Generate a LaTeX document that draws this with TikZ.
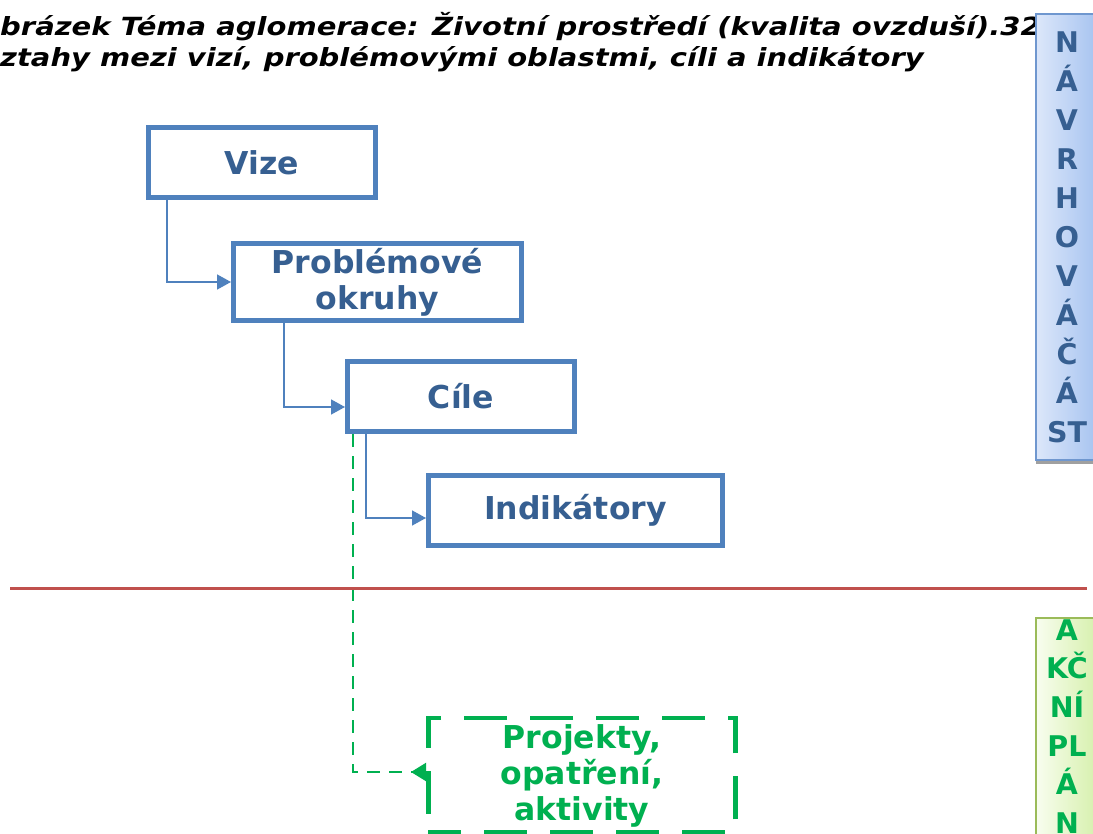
\documentclass[tikz,border=0pt]{standalone}
\usepackage{fontspec}
\setmainfont{DejaVu Sans}
\newfontfamily\titlefam[FakeStretch=1.16]{DejaVu Sans}
\usetikzlibrary{arrows.meta,calc}
\definecolor{boxblue}{HTML}{4F81BD}
\definecolor{txtblue}{HTML}{365F91}
\definecolor{grn}{HTML}{00B050}
\definecolor{redline}{HTML}{C0504D}
\definecolor{navL}{HTML}{DCE7FA}
\definecolor{navR}{HTML}{A6C3F0}
\definecolor{navB}{HTML}{6F97CF}
\definecolor{akL}{HTML}{F8FDEF}
\definecolor{akR}{HTML}{D6F0AC}
\definecolor{akB}{HTML}{9BBB59}
\definecolor{shadowgray}{HTML}{A0A0A0}
\begin{document}
\begin{tikzpicture}[x=1pt,y=-1pt,
  titletext/.style={anchor=base west, inner sep=0pt, font=\titlefam\fontsize{25}{31}\selectfont\bfseries\itshape},
  stepbox/.style={draw=boxblue, line width=4.6pt, fill=white, text=txtblue, align=center, inner sep=0pt,
    font=\fontsize{31.5}{36}\selectfont\bfseries},
  projbox/.style={draw=grn, line width=4.6pt, dash pattern=on 43pt off 23pt, dash phase=10pt, fill=white},
  projtext/.style={text=grn, align=center, inner sep=0pt, font=\fontsize{31.5}{36}\selectfont\bfseries},
  conn/.style={draw=boxblue, line width=1.5pt, -{Triangle[length=14pt,width=15pt]}},
  gconn/.style={draw=grn, line width=2pt, dash pattern=on 13pt off 9pt, -{Triangle[reversed,length=15pt,width=18pt]}},
  navbox/.style={draw=navB, line width=1.5pt, left color=navL, right color=navR, text=txtblue, align=center,
    inner sep=0pt, minimum width=62pt, minimum height=446pt, font=\fontsize{28.5}{39}\selectfont\bfseries},
  akbox/.style={draw=akB, line width=1.5pt, left color=akL, right color=akR, text=grn, align=center,
    inner sep=0pt, minimum width=62pt, minimum height=217pt, font=\fontsize{28.5}{38.6}\selectfont\bfseries}
]
\useasboundingbox (0,0) rectangle (1093,834);

% title
\node[titletext] (t1) at (0,36) {brázek Téma aglomerace: Životní prostředí (kvalita ovzduší).32};
\node[titletext] (t2) at (0,67) {ztahy mezi vizí, problémovými oblastmi, cíli a indikátory};

% side boxes
\fill[shadowgray] (1036,458) rectangle (1100,464);
\node[navbox] (nav) at (1067,237) {N\\Á\\V\\R\\H\\O\\V\\Á\\Č\\Á\\ST};
\node[akbox] (ak) at (1067,726.5) {A\\KČ\\NÍ\\PL\\Á\\N};

% steps
\node[stepbox, minimum width=227.4pt, minimum height=70.4pt] (vize) at (262,162.5) {Vize};
\node[stepbox, minimum width=288.4pt, minimum height=77.4pt] (prob) at (377.5,282) {Problémové\\okruhy};
\node[stepbox, minimum width=227.4pt, minimum height=70.4pt] (cile) at (461,396.5) {Cíle};
\node[stepbox, minimum width=294.4pt, minimum height=70.4pt] (ind) at (575.5,510.5) {Indikátory};
\node[projbox, minimum width=307.4pt, minimum height=114pt,
  label={[projtext, yshift=-1pt]center:Projekty,\\opatření,\\aktivity}] (proj) at (582,775) {};

% connectors
\draw[conn] ($(vize.south west)+(21,0)$) |- (prob.west);
\draw[conn] ($(prob.south west)+(53,0)$) |- ($(cile.west)+(0,10.5)$);
\draw[conn] ($(cile.south west)+(21,0)$) |- ($(ind.west)+(0,7.5)$);
\draw[gconn] ($(cile.south west)+(8,0)$) |- ($(proj.west)+(0,-3)$);

% divider
\coordinate (rl) at (10,588);
\coordinate (rr) at (1087,588);
\draw[redline, line width=3pt] (rl) -- (rr);
\end{tikzpicture}
\end{document}
